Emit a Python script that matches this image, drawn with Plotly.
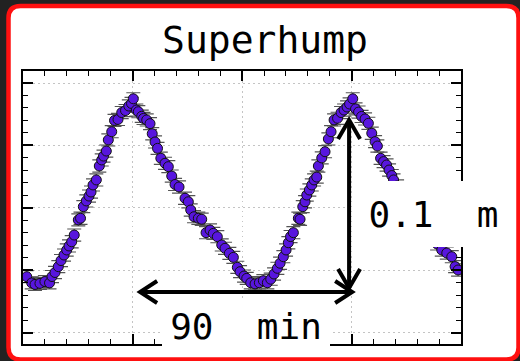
import plotly.graph_objects as go

# ---- light curve: time since start (minutes) and relative magnitude ----
time_min = [
    1.6, 3.7, 5.1, 7.2, 9.3, 11.25, 12.31, 13.58, 14.99, 16.13, 17.41, 18.55,
    19.53, 20.67, 21.74, 23.48, 24.41, 25.60, 26.87, 28.02, 28.87, 29.72,
    31.12, 32.39, 33.41, 34.17, 35.36, 36.21, 37.66, 38.84, 40.33, 41.90,
    43.51, 44.91, 46.06, 46.82, 48.10, 48.95, 50.39, 51.15, 52.51, 53.91,
    54.85, 56.04, 57.10, 58.50, 60.28, 61.68, 63.13, 64.53, 66.23, 68.77,
    70.17, 71.19, 72.59, 74.42, 75.86, 77.69, 79.39, 80.79, 82.48, 84.35,
    85.75, 87.58, 89.28, 90.97, 92.12, 93.82, 94.96, 96.66, 98.49, 100.31,
    102.01, 103.71, 105.15, 106.55, 107.96, 109.10, 110.50, 111.65, 112.62,
    113.56, 114.75, 116.87, 117.59, 118.74, 119.71, 120.44, 121.54, 122.56,
    123.54, 124.68, 125.36, 126.80, 128.20, 129.61, 130.75, 132.03, 133.51,
    135.00, 136.27, 137.54, 138.61, 139.96, 141.15, 142.43, 143.70, 145.18,
    146.59, 148.03, 149.43, 150.41, 151.77, 153.04, 154.31, 155.37, 156.52,
    157.28, 158.77, 160.47, 162.17, 163.86, 165.56, 167.26, 168.96, 170.66,
    172.35, 174.05, 175.75, 177.74, 179.86, 181.99, 183.39, 184.66,
]
delta_mag = [
    0.1153, 0.1190, 0.1199, 0.1193, 0.1182, 0.1190, 0.1152, 0.1128, 0.1093,
    0.1057, 0.1024, 0.0994, 0.0970, 0.0945, 0.0905, 0.0815, 0.0805, 0.0736,
    0.0702, 0.0673, 0.0649, 0.0607, 0.0577, 0.0494, 0.0458, 0.0435, 0.0405,
    0.0339, 0.0290, 0.0223, 0.0217, 0.0176, 0.0164, 0.0137, 0.0122, 0.0094,
    0.0161, 0.0171, 0.0198, 0.0211, 0.0220, 0.0242, 0.0302, 0.0351, 0.0389,
    0.0448, 0.0478, 0.0498, 0.0554, 0.0604, 0.0619, 0.0686, 0.0707, 0.0756,
    0.0796, 0.0805, 0.0811, 0.0891, 0.0875, 0.0895, 0.0915, 0.0964, 0.0984,
    0.1014, 0.1038, 0.1097, 0.1123, 0.1149, 0.1163, 0.1189, 0.1196, 0.1189,
    0.1177, 0.1189, 0.1168, 0.1137, 0.1103, 0.1073, 0.1034, 0.0994, 0.0951,
    0.0914, 0.0891, 0.0805, 0.0811, 0.0736, 0.0707, 0.0667, 0.0637, 0.0607,
    0.0577, 0.0560, 0.0494, 0.0446, 0.0409, 0.0333, 0.0290, 0.0220, 0.0210,
    0.0176, 0.0161, 0.0143, 0.0125, 0.0094, 0.0154, 0.0173, 0.0199, 0.0214,
    0.0240, 0.0299, 0.0349, 0.0375, 0.0448, 0.0468, 0.0488, 0.0518, 0.0551,
    0.0577, 0.0613, 0.0649, 0.0685, 0.0714, 0.0756, 0.0786, 0.0821, 0.0857,
    0.0893, 0.0923, 0.0958, 0.0994, 0.1012, 0.1034, 0.1093, 0.1113,
]
MAG_ERR = 0.0036

# superhump period and amplitude markers
PERIOD_MIN = 90.0
PERIOD_START = 49.7
PERIOD_LEVEL = 0.1244
AMPLITUDE_MAG = 0.1
AMP_TIME = 138.4
AMP_TOP = 0.022

TITLE = "Superhump"
PERIOD_LABEL = "90\u00a0\u00a0min"
AMP_LABEL = "0.1\u00a0\u00a0m"

# ---- layout geometry ----
W, H = 520, 361
M_L, M_R, M_T, M_B = 23, 59, 71, 17
PW, PH = W - M_L - M_R, H - M_T - M_B

X_RANGE = [0.0, 185.9]
X_DTICK = 46.5
Y_RANGE = [0.15536, -0.00714]
Y_DTICK = 0.0372

MONO = "DejaVu Sans Mono"


def paper_x(px):
    return (px - M_L) / PW


def paper_y(py):
    return (M_T + PH - py) / PH


fig = go.Figure()
fig.add_trace(go.Scatter(
    x=time_min, y=delta_mag, mode="markers",
    marker=dict(size=10, color="#5816de", line=dict(color="#111111", width=1)),
    error_y=dict(type="constant", value=MAG_ERR, color="#555555",
                 thickness=1.2, width=7),
    showlegend=False, hoverinfo="x+y",
))

shapes = []

# card background: white rounded rectangle with red rim
L, R, T, B, r = 8.5, 518.5, 6.0, 359.5, 12.0
pts = [
    ("M", L + r, T), ("L", R - r, T), ("Q", R, T, R, T + r),
    ("L", R, B - r), ("Q", R, B, R - r, B), ("L", L + r, B),
    ("Q", L, B, L, B - r), ("L", L, T + r), ("Q", L, T, L + r, T),
]
path = ""
for p in pts:
    cmd, vals = p[0], p[1:]
    coords = []
    for i in range(0, len(vals), 2):
        coords.append(f"{paper_x(vals[i]):.5f},{paper_y(vals[i + 1]):.5f}")
    path += cmd + " " + " ".join(coords) + " "
path += "Z"
shapes.append(dict(type="path", xref="paper", yref="paper", path=path,
                   fillcolor="white", line=dict(color="#ff1010", width=4.5),
                   layer="below"))

ARROW_W = 4
# period arrow (horizontal, double-headed)
shapes.append(dict(type="line", xref="x", yref="y",
                   x0=PERIOD_START, x1=PERIOD_START + PERIOD_MIN,
                   y0=PERIOD_LEVEL, y1=PERIOD_LEVEL,
                   line=dict(color="black", width=ARROW_W), layer="above"))
for xt, sgn in ((PERIOD_START, 1), (PERIOD_START + PERIOD_MIN, -1)):
    shapes.append(dict(type="path", xref="x", yref="y",
                       xsizemode="pixel", ysizemode="pixel",
                       xanchor=xt, yanchor=PERIOD_LEVEL,
                       path=f"M {17*sgn},11 L 0,0 L {17*sgn},-11",
                       line=dict(color="black", width=ARROW_W), layer="above"))

# amplitude arrow (vertical, double-headed)
shapes.append(dict(type="line", xref="x", yref="y",
                   x0=AMP_TIME, x1=AMP_TIME,
                   y0=AMP_TOP, y1=AMP_TOP + AMPLITUDE_MAG,
                   line=dict(color="black", width=ARROW_W), layer="above"))
for yt, sgn in ((AMP_TOP, -1), (AMP_TOP + AMPLITUDE_MAG, 1)):
    shapes.append(dict(type="path", xref="x", yref="y",
                       xsizemode="pixel", ysizemode="pixel",
                       xanchor=AMP_TIME, yanchor=yt,
                       path=f"M -11,{19*sgn} L 0,0 L 11,{19*sgn}",
                       line=dict(color="black", width=ARROW_W), layer="above"))

annotations = [
    dict(text=TITLE, xref="paper", yref="paper",
         x=paper_x(265), y=paper_y(40), xanchor="center", yanchor="middle",
         showarrow=False, font=dict(family=MONO, size=38, color="black")),
    dict(text=AMP_LABEL, xref="paper", yref="paper",
         x=paper_x(433.5), y=paper_y(214), xanchor="center", yanchor="middle",
         width=163, height=66, bgcolor="white", borderpad=0, borderwidth=0,
         showarrow=False, font=dict(family=MONO, size=36, color="black")),
    dict(text=PERIOD_LABEL, xref="paper", yref="paper",
         x=paper_x(246), y=paper_y(326), xanchor="center", yanchor="middle",
         width=168, height=52, bgcolor="white", borderpad=0, borderwidth=0,
         showarrow=False, font=dict(family=MONO, size=36, color="black")),
]

axis_common = dict(
    showline=True, linecolor="black", linewidth=2, mirror="ticks",
    ticks="inside", ticklen=10, tickwidth=1.5, tickcolor="black",
    showticklabels=False, zeroline=False,
    showgrid=True, gridcolor="#c4c4c4", gridwidth=1.2, griddash="1.5px,3.5px",
)

fig.update_layout(
    width=W, height=H,
    margin=dict(l=M_L, r=M_R, t=M_T, b=M_B),
    paper_bgcolor="#222222", plot_bgcolor="white",
    xaxis=dict(range=X_RANGE, tick0=0, dtick=X_DTICK,
               minor=dict(ticks="inside", ticklen=5, tickwidth=1.2,
                          tickcolor="black", dtick=X_DTICK / 5, showgrid=False),
               **axis_common),
    yaxis=dict(range=Y_RANGE, tick0=0, dtick=Y_DTICK,
               minor=dict(ticks="inside", ticklen=5, tickwidth=1.2,
                          tickcolor="black", dtick=Y_DTICK / 5, showgrid=False),
               **axis_common),
    shapes=shapes,
    annotations=annotations,
)

fig.write_html("out.html")
